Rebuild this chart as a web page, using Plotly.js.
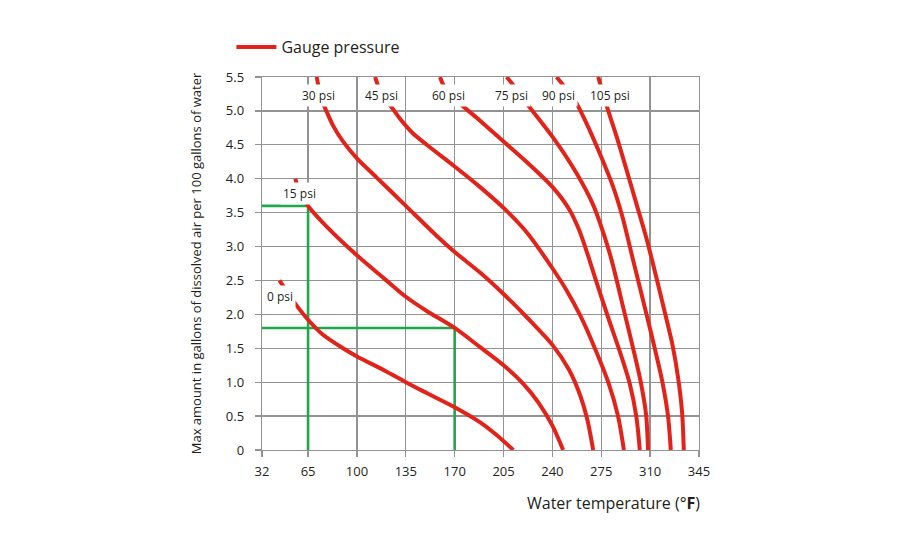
<!DOCTYPE html>
<html>
<head>
<meta charset="utf-8">
<script src="https://cdn.plot.ly/plotly-3.0.1.min.js"></script>
<style>
  html, body { margin: 0; padding: 0; background: #fff; }
  #chart { width: 900px; height: 550px; }
</style>
</head>
<body>
<div id="chart"></div>
<script>
// Water temperature axis (°F) and dissolved-air axis ticks
const tempTicks = [32, 65, 100, 135, 170, 205, 240, 275, 310, 345];
const airTicks = [0, 0.5, 1, 1.5, 2, 2.5, 3, 3.5, 4, 4.5, 5, 5.5];
const airTickText = ['0', '0.5', '1.0', '1.5', '2.0', '2.5', '3.0', '3.5', '4.0', '4.5', '5.0', '5.5'];

// Gauge pressure labels
const pressures = ['0 psi', '15 psi', '30 psi', '45 psi', '60 psi', '75 psi', '90 psi', '105 psi'];

// Solubility curves: temperature (°F) and max dissolved air (gal per 100 gal water)
const temp0 = [44.5, 55, 65, 75, 90, 100, 120, 135, 150, 170, 188, 200, 212];
const air0 = [2.5, 2.18, 1.92, 1.71, 1.5, 1.38, 1.17, 1.0, 0.84, 0.63, 0.41, 0.22, 0];

const temp15 = [55.8, 57.5, 65, 78.5, 100, 120, 135, 150, 170, 188, 205, 219, 230, 240, 247.7];
const air15 = [4.0, 3.9, 3.6, 3.29, 2.87, 2.52, 2.26, 2.05, 1.8, 1.52, 1.25, 0.98, 0.7, 0.36, 0];

const temp30 = [71.2, 72.5, 75.6, 78.5, 83, 90, 100, 114, 135, 157, 170, 188, 205, 222, 240, 252, 260, 265, 269.2];
const air30 = [5.5, 5.36, 5.12, 4.98, 4.78, 4.55, 4.3, 4.02, 3.6, 3.16, 2.92, 2.62, 2.3, 1.95, 1.55, 1.18, 0.8, 0.45, 0];

const temp45 = [113, 115.4, 120, 125, 131, 140, 155, 170, 188, 205, 222, 240, 250, 260, 270, 280, 287, 291.2];
const air45 = [5.5, 5.36, 5.2, 5.05, 4.88, 4.67, 4.42, 4.18, 3.88, 3.57, 3.2, 2.68, 2.36, 1.98, 1.52, 1.0, 0.5, 0];

const temp60 = [159.5, 162, 173.8, 188, 205, 222, 240, 252, 259, 265, 270.4, 280, 288.3, 295.5, 300.2, 302.6];
const air60 = [5.5, 5.38, 5.11, 4.86, 4.55, 4.24, 3.88, 3.55, 3.25, 2.9, 2.55, 1.95, 1.45, 0.97, 0.48, 0];

const temp75 = [207.2, 212, 221.6, 240, 257.3, 269.5, 276.5, 282.4, 291.9, 297.8, 303.3, 307.2, 308.5];
const air75 = [5.5, 5.38, 5.11, 4.62, 4.08, 3.6, 3.2, 2.8, 2.0, 1.5, 1.0, 0.5, 0];

const temp90 = [243, 247.7, 257.3, 266.8, 275, 283.5, 290, 297.8, 307.4, 313.3, 318.8, 322.8, 324.8];
const air90 = [5.5, 5.38, 5.11, 4.71, 4.32, 3.88, 3.45, 2.8, 2.0, 1.5, 1.0, 0.5, 0];

const temp105 = [272.8, 274.5, 278.3, 286, 293.1, 300.2, 307.4, 311, 314.5, 320.5, 326, 330, 332.9, 334.1];
const air105 = [5.5, 5.38, 5.11, 4.62, 4.13, 3.63, 3.12, 2.83, 2.54, 2.03, 1.55, 1.07, 0.55, 0];

// Worked examples: read-off temperature and dissolved air
const exampleTemps = [65, 170];
const exampleAir = [3.6, 1.8];

const curveTemps = [temp0, temp15, temp30, temp45, temp60, temp75, temp90, temp105];
const curveAir = [air0, air15, air30, air45, air60, air75, air90, air105];

const RED = '#e2231a';
const GREEN = '#1fa84a';
const TEXT = '#231f20';
const GRID = '#939393';
const FONT = '"Open Sans", "Noto Sans", sans-serif';

const traces = [];

// Green read-off guides from each example point to the axes
exampleTemps.forEach((t, i) => {
  traces.push({
    type: 'scatter', mode: 'lines',
    x: [tempTicks[0], t, t],
    y: [exampleAir[i], exampleAir[i], airTicks[0]],
    line: { color: GREEN, width: 2.6 },
    hoverinfo: 'skip', showlegend: false
  });
});

// Pressure curves
curveTemps.forEach((xs, i) => {
  traces.push({
    type: 'scatter', mode: 'lines',
    name: 'Gauge pressure',
    legendgroup: 'pressure',
    showlegend: i === 0,
    x: xs, y: curveAir[i],
    line: { color: RED, width: 4, shape: 'spline', smoothing: 0.8 },
    text: pressures[i],
    hovertemplate: '%{text}<br>%{x}°F, %{y}<extra></extra>'
  });
});

// Curve label placement (data coordinates)
const labelAt = [
  [45.1, 2.27], [58.8, 3.78], [72.5, 5.23], [117.8, 5.23],
  [165.5, 5.23], [210.8, 5.23], [244.7, 5.23], [281.6, 5.23]
];

const annotations = pressures.map((p, i) => ({
  x: labelAt[i][0], y: labelAt[i][1], xref: 'x', yref: 'y',
  text: p, showarrow: false,
  font: { family: FONT, size: 12, color: TEXT },
  bgcolor: '#ffffff', borderpad: 2,
  xanchor: 'center', yanchor: 'middle'
}));

annotations.push({
  xref: 'paper', yref: 'paper', x: 1.008, y: -0.142,
  xanchor: 'right', yanchor: 'middle', showarrow: false,
  text: 'Water temperature (°<b>F</b>)',
  font: { family: FONT, size: 16, color: TEXT }
});

const layout = {
  width: 900, height: 550,
  margin: { l: 262, r: 201, t: 77, b: 100 },
  paper_bgcolor: '#ffffff', plot_bgcolor: '#ffffff',
  font: { family: FONT, color: TEXT, size: 13 },
  showlegend: true,
  legend: {
    x: -0.07, y: 1.08, xanchor: 'left', yanchor: 'middle',
    orientation: 'h', bgcolor: 'rgba(0,0,0,0)',
    font: { family: FONT, size: 16, color: TEXT },
    itemwidth: 40
  },
  xaxis: {
    range: [32, 345], tickmode: 'array', tickvals: tempTicks,
    ticks: 'outside', ticklen: 6, tickcolor: GRID, tickwidth: 1.3,
    ticklabelstandoff: 3,
    showgrid: true, gridcolor: GRID, gridwidth: 1.3,
    showline: true, linecolor: GRID, linewidth: 1.3, mirror: true,
    zeroline: false, fixedrange: true,
    tickfont: { family: FONT, size: 13, color: TEXT }
  },
  yaxis: {
    range: [0, 5.5], tickmode: 'array', tickvals: airTicks, ticktext: airTickText,
    ticks: 'outside', ticklen: 6, tickcolor: GRID, tickwidth: 1.3,
    ticklabelstandoff: 8,
    showgrid: true, gridcolor: GRID, gridwidth: 1.3,
    showline: true, linecolor: GRID, linewidth: 1.3, mirror: true,
    zeroline: false, fixedrange: true,
    tickfont: { family: FONT, size: 13, color: TEXT },
    title: {
      text: 'Max amount in gallons of dissolved air per 100 gallons of water',
      font: { family: FONT, size: 13, color: TEXT },
      standoff: 21
    }
  },
  annotations: annotations
};

Plotly.newPlot('chart', traces, layout, { displayModeBar: false, staticPlot: true });
</script>
</body>
</html>
